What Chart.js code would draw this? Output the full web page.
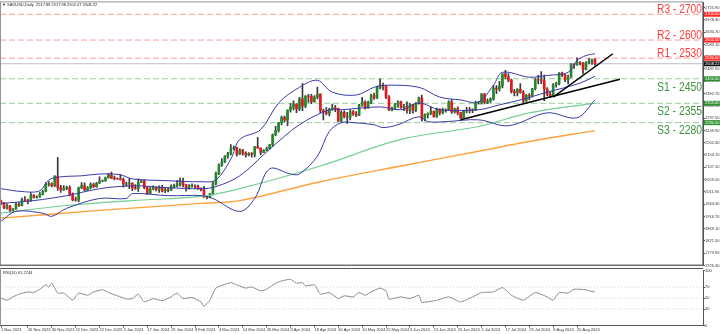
<!DOCTYPE html>
<html>
<head>
<meta charset="utf-8">
<script src="https://cdn.jsdelivr.net/npm/chart.js@4.4.1/dist/chart.umd.min.js"></script>
<style>
  html, body { margin: 0; padding: 0; background: #fff; }
  #wrap { position: relative; width: 720px; height: 334px; overflow: hidden; }
  #main { position: absolute; left: 0; top: 0; }
  #rsi { position: absolute; left: 0; top: 268px; }
</style>
</head>
<body>
<div id="wrap">
  <canvas id="main" width="720" height="268"></canvas>
  <canvas id="rsi" width="720" height="66"></canvas>
</div>
<script>
// XAUUSD daily candles, one entry per bar (bar index = position on the time axis)
const opens = [
  1977,1969,1950,1958,1940,1946,1963,1959,1981,1980, 1977,1998,1990,1992,2002,2014,2041,2044,2036,2072,
  2029,2019,2025,2028,2004,1981,1980,2027,2036,2019, 2027,2040,2031,2045,2053,2055,2067,2077,2065,2063,
  2062,2059,2042,2043,2045,2027,2024,2049,2055,2028, 2006,2023,2029,2021,2029,2014,2021,2018,2032,2036,
  2039,2054,2039,2025,2035,2035,2034,2024,2020,1992, 1992,2004,2044,2083,2115,2128,2149,2160,2179,2182,
  2158,2174,2162,2155,2160,2157,2186,2181,2165,2172, 2179,2194,2233,2250,2280,2300,2290,2329,2339,2352,
  2333,2372,2344,2383,2382,2361,2379,2391,2327,2322, 2316,2332,2337,2335,2286,2320,2303,2301,2323,2314,
  2309,2346,2360,2336,2358,2386,2376,2415,2425,2421, 2379,2329,2334,2351,2361,2338,2343,2327,2350,2327,
  2355,2376,2294,2311,2316,2324,2303,2333,2319,2329, 2328,2360,2322,2334,2319,2298,2327,2326,2331,2329,
  2356,2357,2392,2358,2364,2371,2414,2411,2422,2469, 2458,2445,2400,2396,2409,2397,2364,2386,2384,2411,
  2447,2446,2443,2410,2390,2383,2427,2431,2472,2465, 2447,2456,2507,2504,2513,2512,2485,2512,2517,2524
];
const highs = [
  1980,1971,1965,1960,1947,1971,1970,1988,1993,1984, 2008,2001,1996,2009,2018,2048,2052,2047,2075,2146,
  2037,2036,2034,2035,2008,1992,2030,2048,2047,2032, 2047,2046,2049,2070,2058,2069,2084,2088,2073,2066,
  2079,2066,2050,2064,2048,2040,2062,2058,2058,2031, 2028,2035,2030,2035,2037,2025,2027,2039,2042,2056,
  2065,2065,2041,2040,2043,2039,2038,2027,2033,1996, 2006,2052,2088,2120,2141,2152,2165,2195,2189,2185,
  2179,2177,2167,2164,2164,2188,2223,2182,2176,2185, 2196,2236,2266,2281,2305,2305,2330,2354,2365,2354,
  2378,2431,2385,2390,2390,2385,2418,2392,2333,2338, 2335,2352,2347,2336,2326,2326,2320,2331,2327,2323,
  2351,2378,2365,2364,2391,2395,2422,2450,2433,2424, 2385,2340,2355,2365,2364,2351,2361,2354,2352,2358,
  2379,2387,2314,2318,2342,2326,2336,2334,2336,2334, 2365,2369,2336,2341,2320,2329,2339,2339,2334,2364,
  2363,2392,2393,2372,2376,2424,2424,2440,2469,2483, 2470,2449,2409,2412,2431,2404,2390,2393,2413,2451,
  2463,2478,2464,2416,2399,2431,2436,2474,2476,2467, 2464,2509,2509,2531,2517,2514,2517,2528,2526,2528
];
const lows = [
  1962,1947,1945,1932,1931,1944,1955,1957,1975,1965, 1975,1987,1987,1990,2000,2012,2034,2031,2032,2017,
  2010,2017,2020,1996,1977,1976,1973,2024,2016,2016, 2023,2029,2030,2044,2051,2052,2065,2063,2058,2060,
  2057,2030,2034,2024,2016,2021,2013,2047,2023,2001, 2005,2019,2015,2010,2012,2009,2012,2016,2027,2031,
  2034,2031,2014,2022,2030,2025,2021,2015,1990,1984, 1988,2000,2039,2078,2110,2125,2142,2155,2175,2150,
  2156,2154,2146,2151,2146,2147,2180,2156,2164,2170, 2176,2188,2229,2243,2271,2283,2268,2321,2329,2319,
  2326,2326,2338,2358,2354,2358,2372,2319,2291,2310, 2306,2327,2323,2285,2281,2298,2277,2291,2308,2303,
  2307,2344,2332,2336,2354,2370,2373,2411,2407,2373, 2326,2325,2331,2340,2335,2326,2317,2315,2317,2323,
  2352,2286,2287,2298,2311,2301,2300,2310,2314,2321, 2327,2316,2317,2310,2293,2297,2318,2318,2319,2326,
  2352,2352,2353,2354,2358,2367,2392,2402,2415,2449, 2439,2394,2384,2384,2394,2353,2362,2369,2379,2407,
  2430,2431,2365,2384,2378,2382,2417,2426,2458,2439, 2430,2455,2490,2502,2504,2470,2484,2508,2506,2502
];
const closes = [
  1969,1950,1958,1940,1946,1963,1959,1981,1980,1977, 1998,1990,1992,2002,2014,2041,2044,2036,2072,2029,
  2019,2025,2028,2004,1981,1980,2027,2036,2019,2027, 2040,2031,2045,2053,2055,2067,2077,2065,2063,2062,
  2059,2042,2043,2045,2027,2024,2049,2055,2028,2006, 2023,2029,2021,2029,2014,2021,2018,2032,2036,2039,
  2054,2039,2025,2035,2036,2034,2024,2020,1992,1991, 2004,2044,2083,2115,2128,2149,2160,2179,2182,2158,
  2174,2162,2155,2160,2157,2186,2181,2165,2172,2179, 2194,2233,2250,2280,2300,2290,2329,2339,2352,2333,
  2372,2344,2383,2382,2361,2379,2391,2327,2322,2316, 2332,2337,2335,2286,2320,2303,2301,2323,2314,2309,
  2346,2360,2336,2358,2386,2376,2415,2425,2421,2379, 2329,2334,2351,2361,2338,2343,2327,2350,2327,2355,
  2376,2294,2311,2316,2324,2303,2333,2319,2329,2328, 2360,2322,2334,2319,2298,2327,2326,2331,2329,2356,
  2357,2392,2358,2364,2371,2414,2411,2422,2469,2458, 2445,2400,2396,2409,2397,2364,2386,2384,2411,2447,
  2446,2443,2410,2390,2383,2427,2431,2472,2465,2447, 2456,2507,2504,2513,2512,2485,2512,2517,2524,2508
];

// Bollinger bands (20, 2), sampled at bar indices
const bbUpperBars = [0,7,13,16,20,27,33,40,44,56,67,72,77,80,87,93,100,106,111,119,125,129,140,147,154,160,165,168,177,183,190,193,196,199];
const bbUpper = [2024,2013,2016,2058,2070,2074,2081,2078,2062,2055,2051,2058,2139,2215,2253,2356,2417,2444,2398,2387,2417,2425,2417,2379,2368,2360,2425,2475,2456,2463,2475,2521,2540,2547];
const bbMidBars = [0,11,22,33,44,56,67,72,80,90,100,110,114,127,134,140,147,160,167,174,183,194,199];
const bbMid = [1967,1978,1997,2024,2035,2028,2024,2032,2074,2177,2272,2330,2330,2341,2330,2356,2330,2330,2349,2368,2398,2433,2460];
const bbLowerBars = [0,5,14,17,22,33,42,44,56,67,71,80,85,90,97,100,106,110,114,118,125,128,133,140,143,149,160,170,183,193,199];
const bbLower = [1898,1936,1929,1917,1948,1986,1986,2005,1997,1997,1986,1936,1986,2101,2081,2081,2150,2246,2280,2280,2272,2261,2272,2303,2284,2284,2291,2268,2318,2299,2368];

// moving averages, sampled at bar indices
const maFastBars = [0,22,44,67,80,107,134,160,177,199];
const maFast = [1929,1959,1978,1994,2024,2112,2215,2265,2318,2356];
const maSlowBars = [0,33,67,80,107,134,160,177,199];
const maSlow = [1910,1940,1967,1978,2051,2112,2169,2207,2249];

// support / resistance levels
const levelNames = ['R3 - 2700', 'R2 - 2600', 'R1 - 2530', 'S1 - 2450', 'S2 - 2355', 'S3 - 2280'];
const levelValues = [2700, 2600, 2530, 2450, 2355, 2280];
const levelKinds = ['R', 'R', 'R', 'S', 'S', 'S'];

// trend lines: [bar, price] end points
const trendA = [[154, 2291], [207.4, 2448]];
const trendB = [[185, 2379], [205, 2547]];

const lastPrice = 2508.22;
const chartTitle = '\u25BC XAUUSD,Daily  2517.88 2517.98 2502.47 2508.22';

// price axis tick values
const priceTicks = [2725.90,2678.30,2630.70,2583.10,2535.50,2487.90,2440.30,2392.70,2345.10,2297.50,2249.90,
  2202.30,2154.70,2107.10,2059.50,2011.90,1964.30,1916.70,1869.10,1821.50,1773.90,1726.30];

// RSI(14), sampled at bar indices
const rsiBars = [0,2,4,6,9,11,13,15,16,17,19,21,24,26,29,31,34,36,39,42,44,46,48,51,54,57,59,61,64,67,68,70,72,77,79,82,84,87,89,92,94,97,99,101,102,105,107,110,113,115,118,120,122,124,127,129,130,134,137,140,141,146,150,154,158,161,165,168,171,175,179,183,185,187,190,192,196,197,199];
const rsiValues = [50,46,52,57,61,60,66,74,70,77,59,59,46,59,55,61,65,60,54,48,49,57,43,49,45,52,59,49,51,43,35,46,68,78,74,68,70,63,66,77,81,84,77,78,72,74,57,60,49,54,52,60,55,61,68,63,48,52,49,55,42,46,52,43,52,60,61,69,55,46,60,52,46,60,59,66,65,63,61];
const rsiLevels = [70, 50, 30];
const rsiTicks = [100, 70, 50, 30, 0];
const rsiCaption = 'RSI(14) 61.2744';

// date labels on the time axis and the bars they sit on
const dateLabels = ['1 Nov 2023','20 Nov 2023','30 Nov 2023','12 Dec 2023','22 Dec 2023','3 Jan 2024','17 Jan 2024',
  '29 Jan 2024','8 Feb 2024','4 Mar 2024','14 Mar 2024','26 Mar 2024','8 Apr 2024','18 Apr 2024','30 Apr 2024',
  '10 May 2024','22 May 2024','3 Jun 2024','13 Jun 2024','25 Jun 2024','5 Jul 2024','17 Jul 2024','29 Jul 2024',
  '8 Aug 2024','20 Aug 2024'];
const dateBars = [0,9,17,25,33,41,49,57,65,73,81,89,97,105,113,121,129,137,145,153,161,169,177,185,193];

// ---- styling ----
const X_MIN = -0.34, X_MAX = 235.2;
const AXIS_W = 17;
const UP = '#23892a', DOWN = '#e3191f', WICK = '#3a3a3a';
const BB_COL = '#3a3aa8', FAST_COL = '#72cf95', SLOW_COL = '#ffa23c';
const R_LINE = '#ff9c9c', S_LINE = '#9ccb9c', R_TEXT = '#ff3d3d', S_TEXT = '#3f8f3f';
const FRAME = '#8f959c';
const TINY = { family: 'Arial, "Liberation Sans", sans-serif', size: 4 };

const pts = (bars, vals) => bars.map((b, i) => ({ x: b, y: vals[i] }));
const lineDs = (data, color, width, extra) => Object.assign({
  type: 'line', data, borderColor: color, borderWidth: width, pointRadius: 0,
  fill: false, tension: 0.35, order: 0
}, extra || {});

const wickData = closes.map((c, i) => ({ x: i, y: [lows[i], highs[i]] }));
const bodyData = closes.map((c, i) => ({ x: i, y: [opens[i], c === opens[i] ? c + 0.8 : c] }));
const bodyColors = closes.map((c, i) => (c >= opens[i] ? UP : DOWN));

const levelSets = levelValues.map((v, i) => lineDs(
  [{ x: X_MIN, y: v }, { x: X_MAX, y: v }],
  levelKinds[i] === 'R' ? R_LINE : S_LINE, 1, { borderDash: [6, 3], tension: 0, order: 5 }));

const mainDecor = {
  id: 'mainDecor',
  afterDraw(chart) {
    const { ctx, chartArea: a, scales: { y } } = chart;
    ctx.save();
    // frame
    ctx.strokeStyle = FRAME;
    ctx.lineWidth = 1;
    ctx.strokeRect(a.left + 0.5, a.top - 0.5, a.right - a.left - 1, a.bottom - a.top + 0.5);
    ctx.strokeStyle = '#555';
    ctx.beginPath(); ctx.moveTo(0, a.bottom - 0.5); ctx.lineTo(a.right, a.bottom - 0.5); ctx.stroke();

    // level captions
    ctx.font = '12px Arial, "Liberation Sans", sans-serif';
    levelNames.forEach((txt, i) => {
      const py = y.getPixelForValue(levelValues[i]);
      const isR = levelKinds[i] === 'R';
      ctx.fillStyle = isR ? R_TEXT : S_TEXT;
      ctx.textBaseline = isR ? 'alphabetic' : 'top';
      const w = ctx.measureText(txt).width;
      const sx = 45 / w;
      ctx.save();
      ctx.translate(a.right - 1, isR ? py - 1.5 : py + 2.5);
      ctx.scale(sx, 1);
      ctx.textAlign = 'right';
      ctx.fillText(txt, 0, 0);
      ctx.restore();
    });

    // value boxes on the price axis
    const box = (v, bg, txt) => {
      const py = y.getPixelForValue(v);
      ctx.fillStyle = bg;
      ctx.fillRect(a.right + 1, py - 2.5, 720 - a.right - 1, 5);
      ctx.fillStyle = '#fff';
      ctx.font = '4px Arial, "Liberation Sans", sans-serif';
      ctx.textAlign = 'left';
      ctx.textBaseline = 'middle';
      ctx.fillText(txt, a.right + 2, py);
    };
    levelValues.forEach((v, i) => box(v, levelKinds[i] === 'R' ? '#ff2a2a' : '#2f8f2f', v.toFixed(2)));
    box(lastPrice, '#111', lastPrice.toFixed(2));

    // title
    ctx.fillStyle = '#222';
    ctx.font = '4px Arial, "Liberation Sans", sans-serif';
    ctx.textAlign = 'left';
    ctx.textBaseline = 'middle';
    ctx.fillText(chartTitle, 2, 4.5);
    ctx.restore();
  }
};

new Chart(document.getElementById('main'), {
  type: 'bar',
  data: {
    datasets: [
      lineDs(pts(bbUpperBars, bbUpper), BB_COL, 1),
      lineDs(pts(bbMidBars, bbMid), BB_COL, 1),
      lineDs(pts(bbLowerBars, bbLower), BB_COL, 1),
      lineDs(pts(maFastBars, maFast), FAST_COL, 1.2),
      lineDs(pts(maSlowBars, maSlow), SLOW_COL, 1.4),
      lineDs(trendA.map(p => ({ x: p[0], y: p[1] })), '#000', 1.5, { tension: 0, order: -1 }),
      lineDs(trendB.map(p => ({ x: p[0], y: p[1] })), '#000', 1.5, { tension: 0, order: -1 }),
      lineDs([{ x: X_MIN, y: lastPrice }, { x: X_MAX, y: lastPrice }], '#b7bec9', 1, { tension: 0, order: 6 }),
      ...levelSets,
      { type: 'bar', data: bodyData, backgroundColor: bodyColors, barThickness: 2, grouped: false, order: 2 },
      { type: 'bar', data: wickData, backgroundColor: WICK, barThickness: 1, grouped: false, order: 3 }
    ]
  },
  options: {
    responsive: false,
    animation: false,
    layout: { padding: { top: 1, left: 0, right: 0, bottom: 0 } },
    plugins: { legend: { display: false }, tooltip: { enabled: false } },
    scales: {
      x: { type: 'linear', min: X_MIN, max: X_MAX, offset: false, display: false },
      y: {
        position: 'right', min: 1726, max: 2746,
        afterBuildTicks: s => { s.ticks = priceTicks.map(v => ({ value: v })); },
        afterFit: s => { s.width = AXIS_W; },
        ticks: { autoSkip: false, font: TINY, color: '#333', padding: 0, callback: v => v.toFixed(2) },
        grid: { display: true, drawOnChartArea: false, drawTicks: true, tickLength: 2, color: '#555' },
        border: { display: true, color: '#555' }
      }
    }
  },
  plugins: [mainDecor]
});

const rsiDecor = {
  id: 'rsiDecor',
  afterDraw(chart) {
    const { ctx, chartArea: a } = chart;
    ctx.save();
    ctx.strokeStyle = '#555';
    ctx.lineWidth = 1;
    ctx.beginPath(); ctx.moveTo(0, 0.5); ctx.lineTo(a.right, 0.5); ctx.stroke();
    ctx.strokeStyle = FRAME;
    ctx.beginPath(); ctx.moveTo(a.left + 0.5, 0); ctx.lineTo(a.left + 0.5, a.bottom); ctx.stroke();
    ctx.fillStyle = '#222';
    ctx.font = '4px Arial, "Liberation Sans", sans-serif';
    ctx.textBaseline = 'middle';
    ctx.fillText(rsiCaption, 3, 5);
    ctx.restore();
  }
};

new Chart(document.getElementById('rsi'), {
  type: 'line',
  data: {
    datasets: [
      ...rsiLevels.map(v => lineDs([{ x: X_MIN, y: v }, { x: X_MAX, y: v }], '#c4c4c4', 0.8,
        { borderDash: [1, 2], tension: 0, order: 2 })),
      lineDs(pts(rsiBars, rsiValues), '#8a8a8a', 1, { tension: 0.15 })
    ]
  },
  options: {
    responsive: false,
    animation: false,
    layout: { padding: { top: 2.5, left: 0, right: 0, bottom: 0 } },
    plugins: { legend: { display: false }, tooltip: { enabled: false } },
    scales: {
      x: {
        type: 'linear', min: X_MIN, max: X_MAX, offset: false,
        afterBuildTicks: s => { s.ticks = dateBars.map(v => ({ value: v })); },
        afterFit: s => { s.height = 8.5; },
        ticks: { autoSkip: false, maxRotation: 0, font: TINY, color: '#333', padding: 0, align: 'start',
          callback: (v, i) => dateLabels[i] },
        grid: { display: true, drawOnChartArea: false, drawTicks: true, tickLength: 2, color: '#555' },
        border: { display: true, color: '#555' }
      },
      y: {
        position: 'right', min: 0, max: 100,
        afterBuildTicks: s => { s.ticks = rsiTicks.map(v => ({ value: v })); },
        afterFit: s => { s.width = AXIS_W; },
        ticks: { autoSkip: false, font: TINY, color: '#333', padding: 0, callback: v => String(v) },
        grid: { display: true, drawOnChartArea: false, drawTicks: true, tickLength: 2, color: '#555' },
        border: { display: true, color: '#555' }
      }
    }
  },
  plugins: [rsiDecor]
});
</script>
</body>
</html>
